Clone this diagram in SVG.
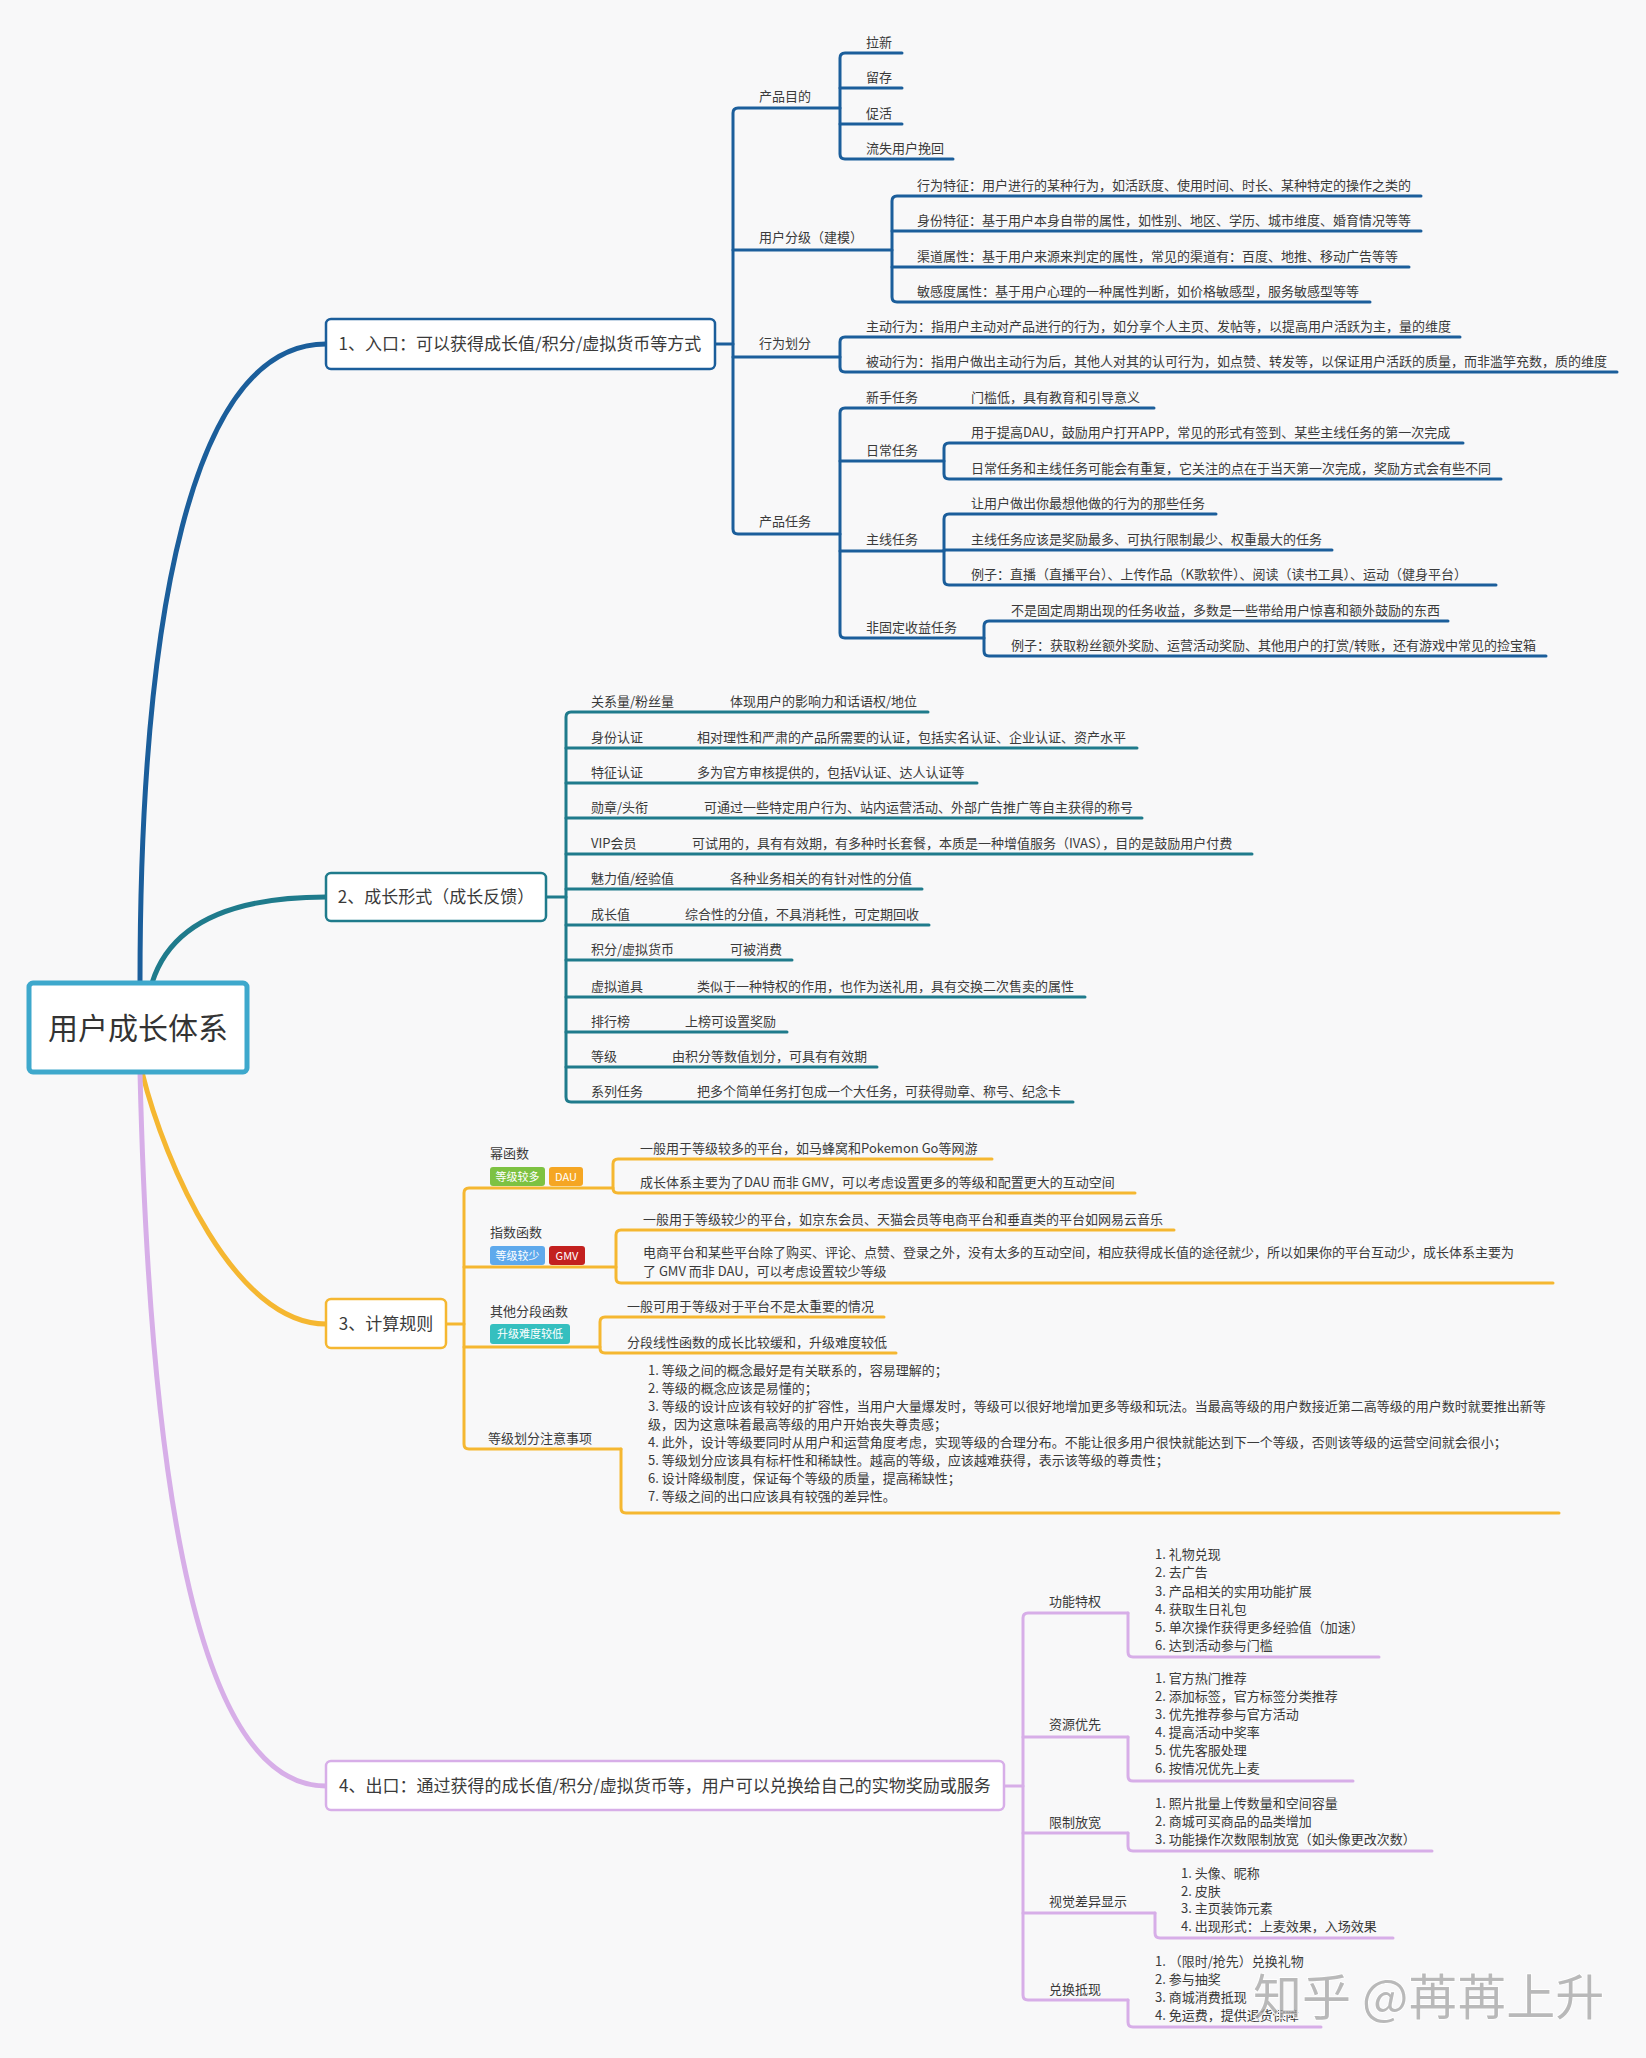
<svg xmlns="http://www.w3.org/2000/svg" width="1646" height="2058" viewBox="0 0 1646 2058">
<defs>
<style>
text{font-family:"Noto Sans CJK SC","Noto Sans",sans-serif;fill:#3a3a3a;}
.t{font-size:13px;}
.bt{font-size:17px;text-anchor:middle;}
.rt{font-size:30px;text-anchor:middle;fill:#333;}
.tag{font-size:11px;fill:#fff;text-anchor:middle;}
.c1,.c2,.c3,.c4{fill:none;stroke-width:3;stroke-linecap:round;stroke-linejoin:round;}
.c1{stroke:#1b5e9b;}
.c2{stroke:#1f7b8c;}
.c3{stroke:#f5b731;}
.c4{stroke:#d7aee8;}
.m{stroke-width:5;}
.n1,.n2,.n3,.n4{fill:#fff;stroke-width:2.5;}
.n1{stroke:#1b5e9b;}.n2{stroke:#1f7b8c;}.n3{stroke:#f5b731;}.n4{stroke:#d7aee8;}
</style>
</defs>
<rect x="0" y="0" width="1646" height="2058" fill="#f8f8f9"/>

<g id="connectors">
<path class="c1 m" d="M140 983 C140 620 190 344 326 344"/>
<path class="c2 m" d="M152 983 C170 925 230 897 326 897"/>
<path class="c3 m" d="M142 1072 C165 1165 235 1324 326 1324"/>
<path class="c4 m" d="M140 1072 C150 1500 200 1786 326 1786"/>

<path class="c1" d="M715 344 H733"/>
<path class="c1" d="M840 108 H738 Q733 108 733 113 V529 Q733 534 738 534 H840"/>
<path class="c1" d="M733 250 H892"/>
<path class="c1" d="M733 357 H840"/>
<path class="c1" d="M902 53 H845 Q840 53 840 58 V154 Q840 159 845 159 H953"/>
<path class="c1" d="M840 88 H902 M840 124 H902"/>
<path class="c1" d="M1421 196 H897 Q892 196 892 201 V297 Q892 302 897 302 H1370"/>
<path class="c1" d="M892 231 H1421 M892 267 H1409"/>
<path class="c1" d="M1460 337 H845 Q840 337 840 342 V367 Q840 372 845 372 H1617"/>
<path class="c1" d="M1154 408 H845 Q840 408 840 413 V633 Q840 638 845 638 H984"/>
<path class="c1" d="M840 461 H944 M840 551 H944"/>
<path class="c1" d="M1463 443 H949 Q944 443 944 448 V474 Q944 479 949 479 H1501"/>
<path class="c1" d="M1216 514 H949 Q944 514 944 519 V580 Q944 585 949 585 H1496"/>
<path class="c1" d="M944 550 H1332"/>
<path class="c1" d="M1448 621 H989 Q984 621 984 626 V651 Q984 656 989 656 H1546"/>

<path class="c2" d="M547 897 H566"/>
<path class="c2" d="M928 712 H571 Q566 712 566 717 V1097 Q566 1102 571 1102 H1073"/>
<path class="c2" d="M566 748 H1137 M566 783 H977 M566 818 H1142 M566 854 H1252 M566 889 H922 M566 925 H929 M566 960 H792 M566 997 H1085 M566 1032 H787 M566 1067 H877"/>

<path class="c3" d="M446 1324 H464"/>
<path class="c3" d="M613 1188 H469 Q464 1188 464 1193 V1444 Q464 1449 469 1449 H621"/>
<path class="c3" d="M464 1267 H616 M464 1347 H600"/>
<path class="c3" d="M992 1159 H618 Q613 1159 613 1164 V1188 Q613 1193 618 1193 H1135"/>
<path class="c3" d="M1174 1230 H621 Q616 1230 616 1235 V1278 Q616 1283 621 1283 H1553"/>
<path class="c3" d="M884 1317 H605 Q600 1317 600 1322 V1348 Q600 1353 605 1353 H896"/>
<path class="c3" d="M621 1449 V1508 Q621 1513 626 1513 H1559"/>

<path class="c4" d="M1004 1786 H1023"/>
<path class="c4" d="M1128 1613 H1028 Q1023 1613 1023 1618 V1995 Q1023 2000 1028 2000 H1128"/>
<path class="c4" d="M1023 1737 H1128 M1023 1833 H1128 M1023 1913 H1155"/>
<path class="c4" d="M1128 1613 V1652 Q1128 1657 1133 1657 H1379"/>
<path class="c4" d="M1128 1737 V1776 Q1128 1781 1133 1781 H1353"/>
<path class="c4" d="M1128 1833 V1846 Q1128 1851 1133 1851 H1432"/>
<path class="c4" d="M1155 1913 V1933 Q1155 1938 1160 1938 H1393"/>
<path class="c4" d="M1128 2000 V2022 Q1128 2027 1133 2027 H1321"/>
</g>

<g id="root">
<rect x="29" y="983" width="218" height="89" rx="4" fill="#fff" stroke="#3ea8cc" stroke-width="5"/>
<text class="rt" x="138" y="1039">用户成长体系</text>
</g>

<g id="branch1">
<rect class="n1" x="326" y="319" width="389" height="50" rx="5"/>
<text class="bt" x="520" y="350">1、入口：可以获得成长值/积分/虚拟货币等方式</text>
</g>
<g id="b1-purpose">
<text class="t" x="759" y="101">产品目的</text>
<text class="t" x="866" y="47">拉新</text>
<text class="t" x="866" y="82">留存</text>
<text class="t" x="866" y="118">促活</text>
<text class="t" x="866" y="153">流失用户挽回</text>
</g>
<g id="b1-grading">
<text class="t" x="759" y="242">用户分级（建模）</text>
<text class="t" x="917" y="190">行为特征：用户进行的某种行为，如活跃度、使用时间、时长、某种特定的操作之类的</text>
<text class="t" x="917" y="225">身份特征：基于用户本身自带的属性，如性别、地区、学历、城市维度、婚育情况等等</text>
<text class="t" x="917" y="261">渠道属性：基于用户来源来判定的属性，常见的渠道有：百度、地推、移动广告等等</text>
<text class="t" x="917" y="296">敏感度属性：基于用户心理的一种属性判断，如价格敏感型，服务敏感型等等</text>
</g>
<g id="b1-behavior">
<text class="t" x="759" y="348">行为划分</text>
<text class="t" x="866" y="331">主动行为：指用户主动对产品进行的行为，如分享个人主页、发帖等，以提高用户活跃为主，量的维度</text>
<text class="t" x="866" y="366">被动行为：指用户做出主动行为后，其他人对其的认可行为，如点赞、转发等，以保证用户活跃的质量，而非滥竽充数，质的维度</text>
</g>
<g id="b1-tasks">
<text class="t" x="759" y="526">产品任务</text>
<text class="t" x="866" y="402">新手任务</text>
<text class="t" x="971" y="402">门槛低，具有教育和引导意义</text>
<text class="t" x="866" y="455">日常任务</text>
<text class="t" x="971" y="437">用于提高DAU，鼓励用户打开APP，常见的形式有签到、某些主线任务的第一次完成</text>
<text class="t" x="971" y="473">日常任务和主线任务可能会有重复，它关注的点在于当天第一次完成，奖励方式会有些不同</text>
<text class="t" x="866" y="544">主线任务</text>
<text class="t" x="971" y="508">让用户做出你最想他做的行为的那些任务</text>
<text class="t" x="971" y="544">主线任务应该是奖励最多、可执行限制最少、权重最大的任务</text>
<text class="t" x="971" y="579">例子：直播（直播平台）、上传作品（K歌软件）、阅读（读书工具）、运动（健身平台）</text>
<text class="t" x="866" y="632">非固定收益任务</text>
<text class="t" x="1011" y="615">不是固定周期出现的任务收益，多数是一些带给用户惊喜和额外鼓励的东西</text>
<text class="t" x="1011" y="650">例子：获取粉丝额外奖励、运营活动奖励、其他用户的打赏/转账，还有游戏中常见的捡宝箱</text>
</g>

<g id="branch2">
<rect class="n2" x="326" y="873" width="220" height="48" rx="5"/>
<text class="bt" x="436" y="903">2、成长形式（成长反馈）</text>
</g>
<g id="b2-items">
<text class="t" x="591" y="706">关系量/粉丝量</text><text class="t" x="730" y="706">体现用户的影响力和话语权/地位</text>
<text class="t" x="591" y="742">身份认证</text><text class="t" x="697" y="742">相对理性和严肃的产品所需要的认证，包括实名认证、企业认证、资产水平</text>
<text class="t" x="591" y="777">特征认证</text><text class="t" x="697" y="777">多为官方审核提供的，包括V认证、达人认证等</text>
<text class="t" x="591" y="812">勋章/头衔</text><text class="t" x="704" y="812">可通过一些特定用户行为、站内运营活动、外部广告推广等自主获得的称号</text>
<text class="t" x="591" y="848">VIP会员</text><text class="t" x="692" y="848">可试用的，具有有效期，有多种时长套餐，本质是一种增值服务（IVAS），目的是鼓励用户付费</text>
<text class="t" x="591" y="883">魅力值/经验值</text><text class="t" x="730" y="883">各种业务相关的有针对性的分值</text>
<text class="t" x="591" y="919">成长值</text><text class="t" x="685" y="919">综合性的分值，不具消耗性，可定期回收</text>
<text class="t" x="591" y="954">积分/虚拟货币</text><text class="t" x="730" y="954">可被消费</text>
<text class="t" x="591" y="991">虚拟道具</text><text class="t" x="697" y="991">类似于一种特权的作用，也作为送礼用，具有交换二次售卖的属性</text>
<text class="t" x="591" y="1026">排行榜</text><text class="t" x="685" y="1026">上榜可设置奖励</text>
<text class="t" x="591" y="1061">等级</text><text class="t" x="672" y="1061">由积分等数值划分，可具有有效期</text>
<text class="t" x="591" y="1096">系列任务</text><text class="t" x="697" y="1096">把多个简单任务打包成一个大任务，可获得勋章、称号、纪念卡</text>
</g>

<g id="branch3">
<rect class="n3" x="326" y="1299" width="120" height="49" rx="5"/>
<text class="bt" x="386" y="1330">3、计算规则</text>
</g>
<g id="b3-power">
<text class="t" x="490" y="1158">幂函数</text>
<rect x="490" y="1167" width="55" height="19" rx="3" fill="#7dc242"/><text class="tag" x="517.5" y="1181">等级较多</text>
<rect x="549" y="1167" width="34" height="19" rx="3" fill="#f5a623"/><text class="tag" x="566" y="1181">DAU</text>
<text class="t" x="640" y="1153">一般用于等级较多的平台，如马蜂窝和Pokemon Go等网游</text>
<text class="t" x="640" y="1187">成长体系主要为了DAU 而非 GMV，可以考虑设置更多的等级和配置更大的互动空间</text>
</g>
<g id="b3-exp">
<text class="t" x="490" y="1237">指数函数</text>
<rect x="490" y="1246" width="55" height="19" rx="3" fill="#5ea9ec"/><text class="tag" x="517.5" y="1260">等级较少</text>
<rect x="549" y="1246" width="36" height="19" rx="3" fill="#c3201f"/><text class="tag" x="567" y="1260">GMV</text>
<text class="t" x="643" y="1224">一般用于等级较少的平台，如京东会员、天猫会员等电商平台和垂直类的平台如网易云音乐</text>
<text class="t" x="643" y="1257">电商平台和某些平台除了购买、评论、点赞、登录之外，没有太多的互动空间，相应获得成长值的途径就少，所以如果你的平台互动少，成长体系主要为</text>
<text class="t" x="643" y="1276">了 GMV 而非 DAU，可以考虑设置较少等级</text>
</g>
<g id="b3-piece">
<text class="t" x="490" y="1316">其他分段函数</text>
<rect x="490" y="1324" width="80" height="20" rx="3" fill="#35bfbf"/><text class="tag" x="530" y="1338">升级难度较低</text>
<text class="t" x="627" y="1311">一般可用于等级对于平台不是太重要的情况</text>
<text class="t" x="627" y="1347">分段线性函数的成长比较缓和，升级难度较低</text>
</g>
<g id="b3-notes">
<text class="t" x="488" y="1443">等级划分注意事项</text>
<text class="t" x="648" y="1375">1. 等级之间的概念最好是有关联系的，容易理解的；</text>
<text class="t" x="648" y="1393">2. 等级的概念应该是易懂的；</text>
<text class="t" x="648" y="1411">3. 等级的设计应该有较好的扩容性，当用户大量爆发时，等级可以很好地增加更多等级和玩法。当最高等级的用户数接近第二高等级的用户数时就要推出新等</text>
<text class="t" x="648" y="1429">级，因为这意味着最高等级的用户开始丧失尊贵感；</text>
<text class="t" x="648" y="1447">4. 此外，设计等级要同时从用户和运营角度考虑，实现等级的合理分布。不能让很多用户很快就能达到下一个等级，否则该等级的运营空间就会很小；</text>
<text class="t" x="648" y="1465">5. 等级划分应该具有标杆性和稀缺性。越高的等级，应该越难获得，表示该等级的尊贵性；</text>
<text class="t" x="648" y="1483">6. 设计降级制度，保证每个等级的质量，提高稀缺性；</text>
<text class="t" x="648" y="1501">7. 等级之间的出口应该具有较强的差异性。</text>
</g>

<g id="branch4">
<rect class="n4" x="326" y="1761" width="678" height="49" rx="5"/>
<text class="bt" x="665" y="1792">4、出口：通过获得的成长值/积分/虚拟货币等，用户可以兑换给自己的实物奖励或服务</text>
</g>
<g id="b4-func">
<text class="t" x="1049" y="1606">功能特权</text>
<text class="t" x="1155" y="1559">1. 礼物兑现</text>
<text class="t" x="1155" y="1577">2. 去广告</text>
<text class="t" x="1155" y="1596">3. 产品相关的实用功能扩展</text>
<text class="t" x="1155" y="1614">4. 获取生日礼包</text>
<text class="t" x="1155" y="1632">5. 单次操作获得更多经验值（加速）</text>
<text class="t" x="1155" y="1650">6. 达到活动参与门槛</text>
</g>
<g id="b4-res">
<text class="t" x="1049" y="1729">资源优先</text>
<text class="t" x="1155" y="1683">1. 官方热门推荐</text>
<text class="t" x="1155" y="1701">2. 添加标签，官方标签分类推荐</text>
<text class="t" x="1155" y="1719">3. 优先推荐参与官方活动</text>
<text class="t" x="1155" y="1737">4. 提高活动中奖率</text>
<text class="t" x="1155" y="1755">5. 优先客服处理</text>
<text class="t" x="1155" y="1773">6. 按情况优先上麦</text>
</g>
<g id="b4-limit">
<text class="t" x="1049" y="1827">限制放宽</text>
<text class="t" x="1155" y="1808">1. 照片批量上传数量和空间容量</text>
<text class="t" x="1155" y="1826">2. 商城可买商品的品类增加</text>
<text class="t" x="1155" y="1844">3. 功能操作次数限制放宽（如头像更改次数）</text>
</g>
<g id="b4-visual">
<text class="t" x="1049" y="1906">视觉差异显示</text>
<text class="t" x="1181" y="1878">1. 头像、昵称</text>
<text class="t" x="1181" y="1896">2. 皮肤</text>
<text class="t" x="1181" y="1913">3. 主页装饰元素</text>
<text class="t" x="1181" y="1931">4. 出现形式：上麦效果，入场效果</text>
</g>
<g id="b4-exchange">
<text class="t" x="1049" y="1994">兑换抵现</text>
<text class="t" x="1155" y="1966">1. （限时/抢先）兑换礼物</text>
<text class="t" x="1155" y="1984">2. 参与抽奖</text>
<text class="t" x="1155" y="2002">3. 商城消费抵现</text>
<text class="t" x="1155" y="2020">4. 免运费，提供退货保障</text>
</g>

<g id="watermark">
<text x="1253" y="2015" style="font-size:49px;fill:#a3a3a3;fill-opacity:0.75;stroke:#ffffff;stroke-width:1.5;paint-order:stroke;">知乎 @苒苒上升</text>
</g>
</svg>
